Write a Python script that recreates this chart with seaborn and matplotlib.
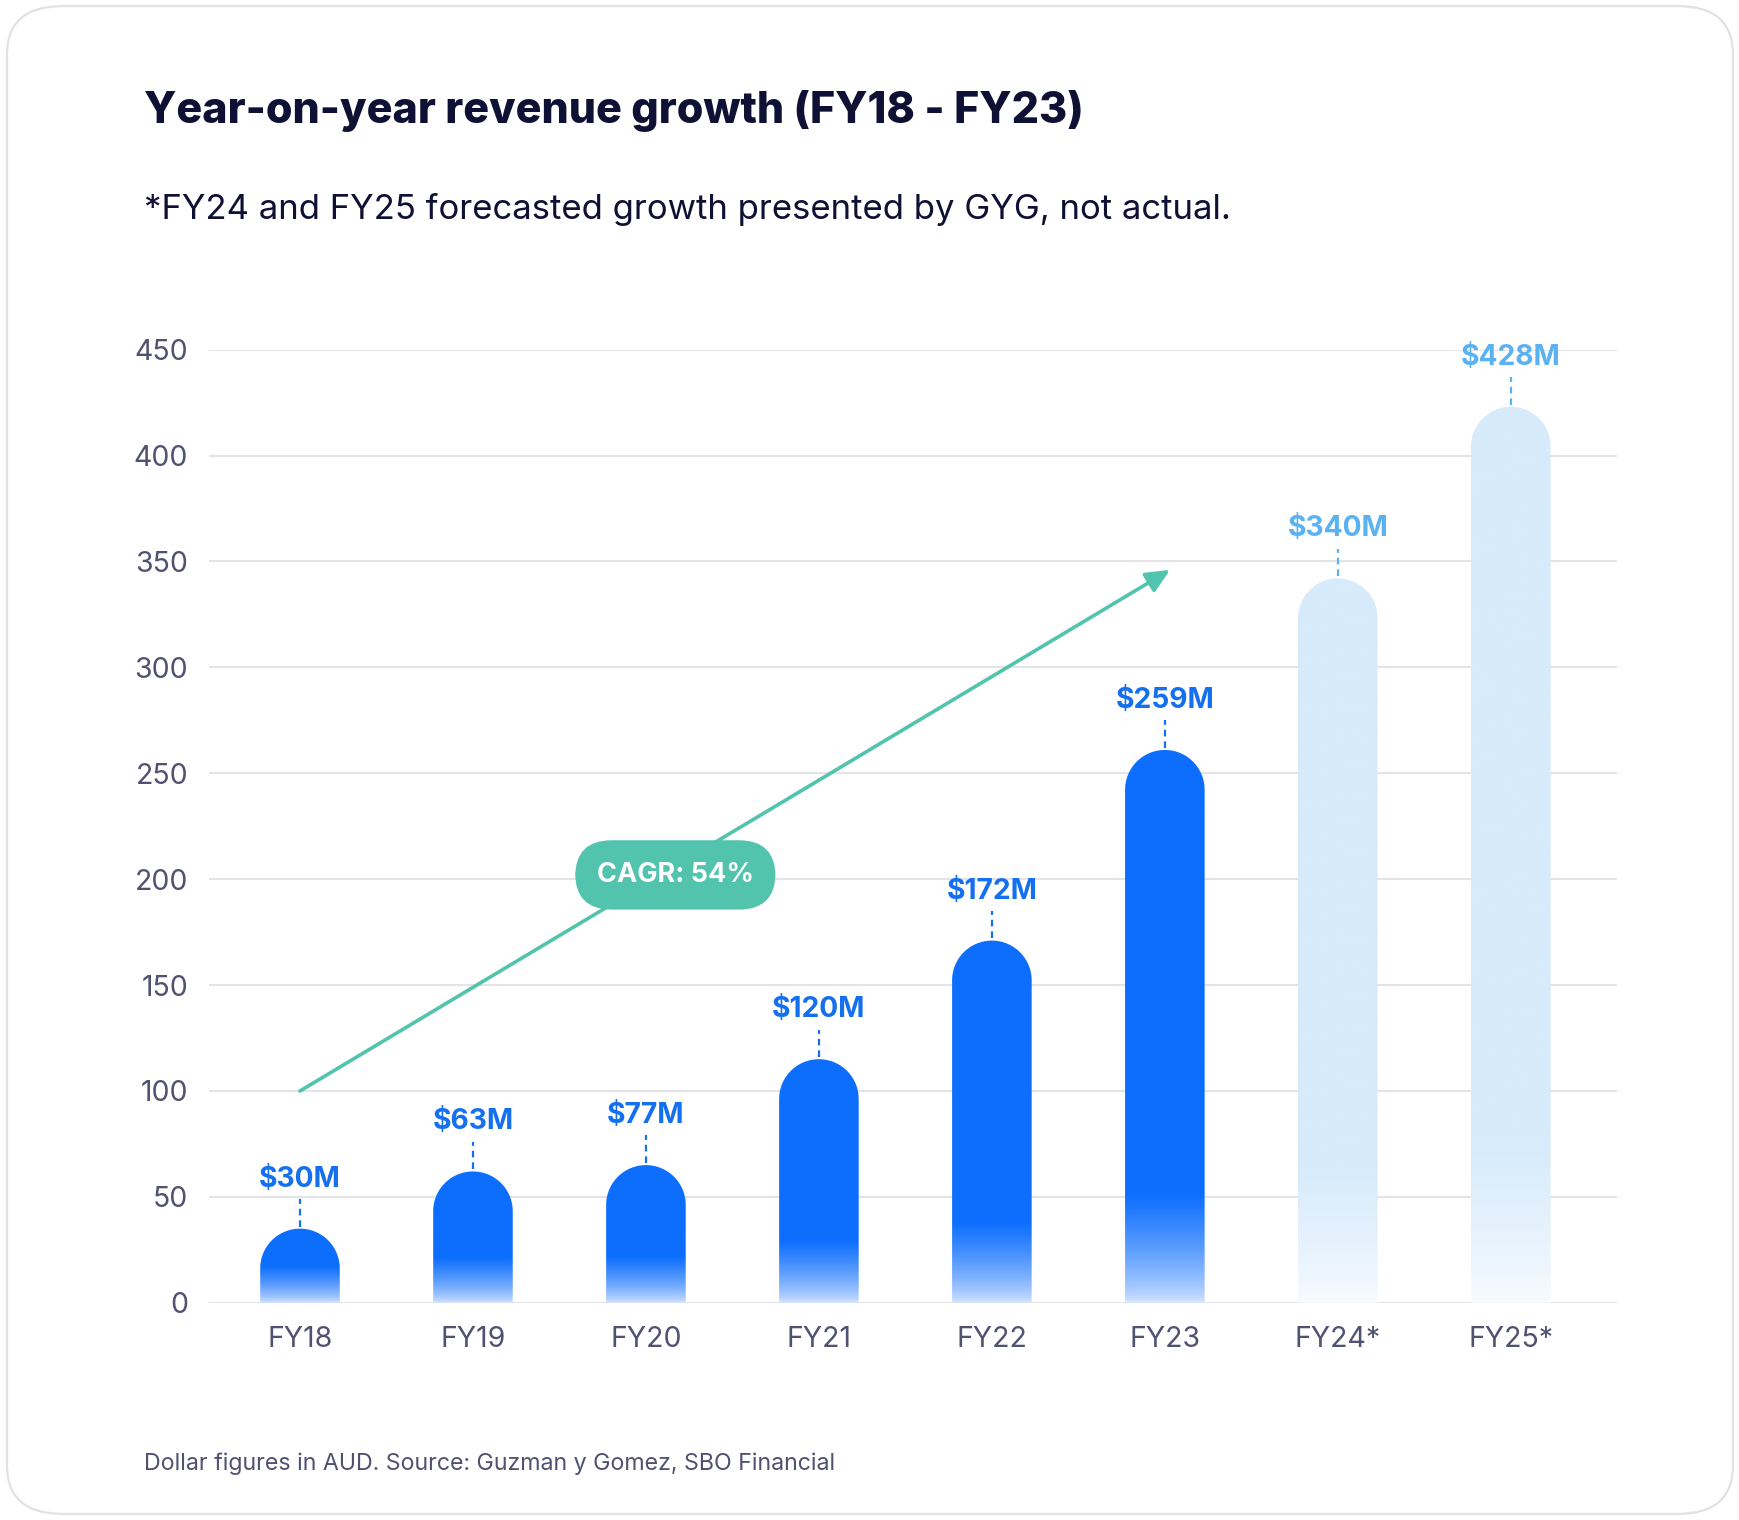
import numpy as np
import matplotlib
matplotlib.use("Agg")
import matplotlib.pyplot as plt
import seaborn as sns
from matplotlib.path import Path
from matplotlib.patches import PathPatch, FancyBboxPatch
from matplotlib.colors import to_rgb

# datos
years = ["FY18", "FY19", "FY20", "FY21", "FY22", "FY23", "FY24*", "FY25*"]
bar_heights = [35, 62, 65, 115, 171, 261, 342, 423]
value_labels = ["$30M", "$63M", "$77M", "$120M", "$172M", "$259M", "$340M", "$428M"]
is_forecast = [False, False, False, False, False, False, True, True]
y_ticks = [0, 50, 100, 150, 200, 250, 300, 350, 400, 450]
cagr_start = (0, 100)
cagr_end = (5.03, 346)
cagr_label = "CAGR: 54%"
cagr_pos = (2.17, 202)

title = "Year-on-year revenue growth (FY18 - FY23)"
subtitle = "*FY24 and FY25 forecasted growth presented by GYG, not actual."
footer = "Dollar figures in AUD. Source: Guzman y Gomez, SBO Financial"

BLUE = "#0D6EFD"
BLUE_BASE = "#D9E8FF"
LIGHT = "#D7EBFB"
LIGHT_BASE = "#F9FCFF"
LABEL_BLUE = "#1570EF"
LABEL_LIGHT = "#5AB2F2"
TEAL = "#52C3AD"
NAVY = "#0E1133"
GREY_TXT = "#4F5270"

sns.set_theme(style="white")
plt.rcParams['font.family'] = ['Inter', 'DejaVu Sans']

fig = plt.figure(figsize=(17.4, 15.2), dpi=100)
fig.patch.set_facecolor("white")

# tarjeta con borde redondeado
card = FancyBboxPatch((0.004, 0.004), 0.992, 0.992, boxstyle="round,pad=0,rounding_size=0.032",
                      transform=fig.transFigure, facecolor="none", edgecolor="#E2E2E6",
                      linewidth=1.6, zorder=-10)
fig.patches.append(card)

fig.text(144 / 1740, 1 - 111 / 1520, title, fontsize=31, fontweight="heavy", color=NAVY,
         va="center", ha="left")
fig.text(144 / 1740, 1 - 209 / 1520, subtitle, fontsize=25, color=NAVY, va="center", ha="left")
fig.text(144 / 1740, 1 - 1464 / 1520, footer, fontsize=16.7, color=GREY_TXT, va="center", ha="left")

ax = fig.add_axes([209 / 1740, 0.1429, 0.8092, 0.6271])
ax.patch.set_alpha(0)
sns.barplot(x=years, y=bar_heights, ax=ax, width=0.46, color=BLUE)
ax.set_xlim(-0.526, 7.614)
ax.set_ylim(0, 450)
ax.set_yticks(y_ticks)
ax.set_yticklabels([str(t) for t in y_ticks])
ax.grid(axis="y", color="#E4E4E8", linewidth=1.5)
ax.set_axisbelow(True)
for s in ax.spines.values():
    s.set_visible(False)
ax.tick_params(axis="y", length=0, pad=15, labelsize=20.5, labelcolor=GREY_TXT)
ax.tick_params(axis="x", length=0, pad=17, labelsize=20.5, labelcolor=GREY_TXT)
ax.set_xlabel("")
ax.set_ylabel("")

# escala px por unidad para hacer el tope redondo
p0 = ax.transData.transform((0, 0))
p1 = ax.transData.transform((1, 1))
px_x = p1[0] - p0[0]
px_y = p1[1] - p0[1]


def mezcla(c_base, c_top, h, fade):
    n = 400
    ys = np.linspace(0, h, n)
    t = np.clip(ys / fade, 0, 1) ** 0.7
    a = np.array(to_rgb(c_base))
    b = np.array(to_rgb(c_top))
    rows = a[None, :] * (1 - t[:, None]) + b[None, :] * t[:, None]
    return rows[::-1][:, None, :]


for i, bar in enumerate(list(ax.patches)):
    x0 = bar.get_x()
    w = bar.get_width()
    h = bar.get_height()
    bar.set_visible(False)
    rx = w / 2
    ry = rx * px_x / px_y
    cx = x0 + rx
    ang = np.linspace(np.pi, 0, 60)
    arc = np.column_stack([cx + rx * np.cos(ang), (h - ry) + ry * np.sin(ang)])
    verts = np.vstack([[x0, 0], arc, [x0 + w, 0], [x0, 0]])
    codes = [Path.MOVETO] + [Path.LINETO] * (len(verts) - 2) + [Path.CLOSEPOLY]
    clip = PathPatch(Path(verts, codes), transform=ax.transData, facecolor="none", edgecolor="none")
    ax.add_patch(clip)
    fade = 12 + 0.15 * h
    if is_forecast[i]:
        img = mezcla(LIGHT_BASE, LIGHT, h, fade)
        lc = LABEL_LIGHT
    else:
        img = mezcla(BLUE_BASE, BLUE, h, fade)
        lc = LABEL_BLUE
    im = ax.imshow(img, extent=(x0, x0 + w, 0, h), aspect="auto", zorder=2, interpolation="bilinear")
    im.set_clip_path(clip)
    # linea punteada y etiqueta
    ax.plot([cx, cx], [h + 1, h + 14], color=lc, linewidth=1.6, linestyle=(0, (3, 2.2)), zorder=3)
    ax.text(cx, h + 17, value_labels[i], ha="center", va="bottom", fontsize=20.3,
            fontweight="bold", color=lc, zorder=3, clip_on=False)

ax.set_xlim(-0.526, 7.614)
ax.set_ylim(0, 450)

ax.annotate("", xy=cagr_end, xytext=cagr_start,
            arrowprops=dict(arrowstyle="-|>,head_length=1.2,head_width=0.55", color=TEAL,
                            linewidth=2.6, shrinkA=0, shrinkB=0), zorder=4)
ax.text(cagr_pos[0], cagr_pos[1], cagr_label, ha="center", va="center", fontsize=19.5,
        fontweight="bold", color="white", zorder=5,
        bbox=dict(boxstyle="round,pad=0.8,rounding_size=1.35", facecolor=TEAL, edgecolor="none"))

fig.savefig("out.png", dpi=100, facecolor="white")
